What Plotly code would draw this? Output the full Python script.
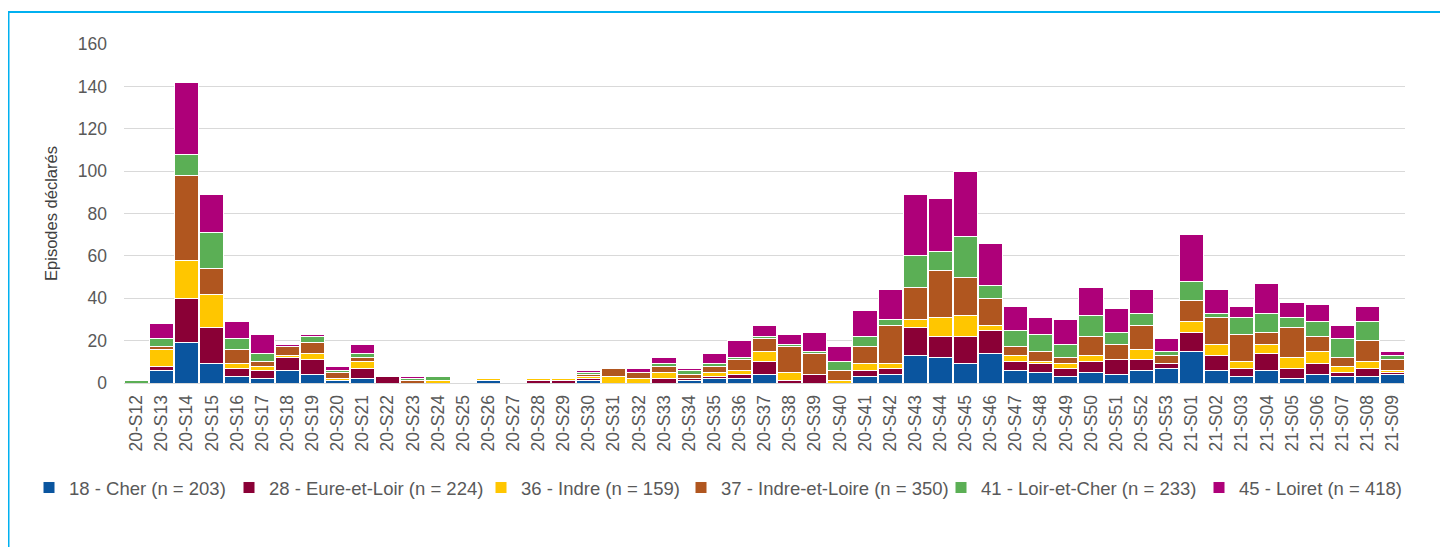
import plotly.graph_objects as go

weeks = ["20-S%02d" % w for w in range(12, 54)] + ["21-S%02d" % w for w in range(1, 10)]

cher = [0, 6, 19, 9, 3, 2, 6, 4, 1, 2, 0, 0, 0, 0, 1, 0, 0, 0, 1, 0, 0, 0, 1, 2, 2, 4, 0, 0, 0, 3,
        4, 13, 12, 9, 14, 6, 5, 3, 5, 4, 6, 7, 15, 6, 3, 6, 2, 4, 3, 3, 4]
eure = [0, 2, 21, 17, 4, 4, 6, 7, 0, 5, 3, 0, 0, 0, 0, 0, 1, 1, 1, 0, 0, 2, 1, 1, 2, 6, 1, 4, 0, 3,
        3, 13, 10, 13, 11, 4, 4, 4, 5, 7, 5, 2, 9, 7, 4, 8, 5, 5, 2, 4, 1]
indre = [0, 8, 18, 16, 2, 2, 1, 3, 1, 3, 0, 0, 1, 0, 1, 0, 1, 1, 1, 3, 2, 3, 0, 2, 2, 5, 4, 0, 1, 3,
         2, 4, 9, 10, 2, 3, 1, 2, 3, 0, 5, 0, 5, 5, 3, 4, 5, 6, 3, 3, 1]
indre_loire = [0, 1, 40, 12, 7, 2, 4, 5, 3, 2, 0, 1, 0, 0, 0, 0, 0, 0, 1, 4, 3, 3, 2, 3, 5, 6, 12, 10, 5, 8,
               18, 15, 22, 18, 13, 4, 5, 3, 9, 7, 11, 4, 10, 13, 13, 6, 14, 7, 4, 10, 5]
loir_cher = [1, 4, 10, 17, 5, 4, 0, 3, 1, 2, 0, 1, 2, 0, 0, 0, 0, 0, 1, 0, 0, 1, 2, 1, 1, 1, 1, 1, 4, 5,
             3, 15, 9, 19, 6, 8, 8, 6, 10, 6, 6, 2, 9, 2, 8, 9, 5, 7, 9, 9, 2]
loiret = [0, 7, 34, 18, 8, 9, 1, 1, 2, 4, 0, 1, 0, 0, 0, 0, 0, 0, 1, 0, 2, 3, 1, 5, 8, 5, 5, 9, 7, 12,
          14, 29, 25, 31, 20, 11, 8, 12, 13, 11, 11, 6, 22, 11, 5, 14, 7, 8, 6, 7, 2]

series = [
    ("18 - Cher (n = 203)", cher, "#0A559F"),
    ("28 - Eure-et-Loir (n = 224)", eure, "#8A0036"),
    ("36 - Indre (n = 159)", indre, "#FFC600"),
    ("37 - Indre-et-Loire (n = 350)", indre_loire, "#B0561F"),
    ("41 - Loir-et-Cher (n = 233)", loir_cher, "#5BAF55"),
    ("45 - Loiret (n = 418)", loiret, "#AE0079"),
]

# page x where each legend entry's text begins
legend_text_x = [70, 270, 522, 722, 982, 1240]

txt = "#595959"
# page has an 8px body margin: figure drawn at (8,8) in the 1448x547 window
W, H = 1440, 539
L, R, T, B = 116, 43, 35.5, 164
pw, ph = W - L - R, H - T - B

def fx(px):
    return (px - L) / pw

def fy(py):
    return (H - B - py) / ph

fig = go.Figure()
legends = {}
for i, ((name, vals, col), tx) in enumerate(zip(series, legend_text_x)):
    lname = "legend%d" % (i + 2)
    fig.add_trace(go.Bar(
        x=weeks, y=vals, name=name, legend=lname, showlegend=True,
        marker=dict(color=col, line=dict(color="white", width=1)),
    ))
    legends[lname] = dict(
        orientation="h", xref="container", x=(tx - 49) / W, xanchor="left",
        yref="container", y=(H - 480) / H, yanchor="middle",
        font=dict(size=18.5, color=txt), bgcolor="rgba(0,0,0,0)",
    )

fig.update_layout(
    width=W, height=H, showlegend=True,
    barmode="stack", bargap=0.04,
    plot_bgcolor="white", paper_bgcolor="white",
    margin=dict(l=L, r=R, t=T, b=B, autoexpand=False),
    font=dict(family="Liberation Sans, Arial, sans-serif", color=txt),
    yaxis=dict(
        range=[0, 160], dtick=20, showgrid=True, gridcolor="#D9D9D9", gridwidth=1,
        zeroline=False, showline=False, ticks="",
        tickfont=dict(size=17.5, color=txt), ticklabelstandoff=16,
        title=dict(text="Episodes déclarés", font=dict(size=16.5, color="#404040"), standoff=16),
        automargin=False,
    ),
    xaxis=dict(
        type="category", tickangle=-90, tickfont=dict(size=17.5, color=txt),
        showline=True, linecolor="#D9D9D9", linewidth=1, ticks="",
        ticklabelstandoff=4, showgrid=False, automargin=False,
    ),
    shapes=[dict(
        type="rect", xref="paper", yref="paper",
        x0=fx(0.5), x1=fx(1433), y0=fy(580), y1=fy(3.5),
        line=dict(color="#00B0F0", width=2), fillcolor="rgba(0,0,0,0)", layer="below",
    )],
    **legends,
)

fig.write_html("out.html")
